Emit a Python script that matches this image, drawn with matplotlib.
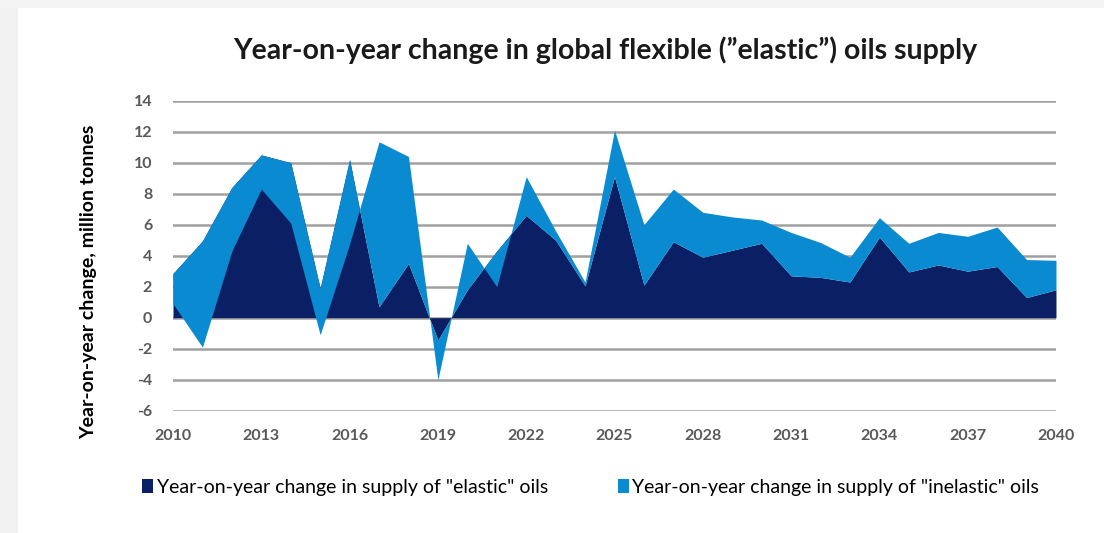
import numpy as np
import matplotlib.pyplot as plt
from matplotlib.patches import Rectangle

# data (million tonnes)
years = list(range(2010, 2041))
elastic = [2.85, 4.95, 8.4, 10.5, 10.0, 1.9, 10.2, 0.7, 3.5, -1.45,
           1.8, 4.3, 6.6, 5.0, 2.05, 9.1, 2.1, 4.9, 3.9, 4.35,
           4.8, 2.7, 2.6, 2.3, 5.2, 2.95, 3.4, 3.0, 3.3, 1.3, 1.8]
inelastic = [-1.95, -6.85, -4.1, -2.2, -3.9, -3.0, -5.45, 10.65, 6.9, -2.55,
             3.0, -2.3, 2.5, 0.6, 0.25, 3.0, 3.9, 3.4, 2.9, 2.15,
             1.5, 2.8, 2.25, 1.6, 1.25, 1.85, 2.1, 2.25, 2.55, 2.45, 1.9]
xtick_years = list(range(2010, 2041, 3))
yticks = list(range(-6, 15, 2))

title = "Year-on-year change in global flexible (\u201delastic\u201d) oils supply"
ylabel = "Year-on-year change, million tonnes"
label_elastic = 'Year-on-year change in supply of "elastic" oils'
label_inelastic = 'Year-on-year change in supply of "inelastic" oils'

dark = "#0b1f64"
light = "#0a8ad0"
tick_col = "#595959"

plt.rcParams["font.family"] = ["Lato", "DejaVu Sans"]

fig = plt.figure(figsize=(11.04, 5.33), dpi=100)

# faint page shadow on the left and top edges
fig.patches.append(Rectangle((0, 0), 0.016, 1, transform=fig.transFigure,
                             color="#f2f2f2", lw=0, zorder=0))
fig.patches.append(Rectangle((0, 0.985), 1, 0.015, transform=fig.transFigure,
                             color="#f4f4f4", lw=0, zorder=0))

ax = fig.add_axes([0.1567, 0.2295, 0.7998, 0.5816])

x = np.array(years)
e = np.array(elastic)
top = e + np.array(inelastic)

h1 = ax.fill_between(x, 0, e, color=dark, lw=0, label=label_elastic, zorder=2)
h2 = ax.fill_between(x, e, top, color=light, lw=0, label=label_inelastic, zorder=3)

ax.set_xlim(2010, 2040)
ax.set_ylim(-6, 14)
ax.set_xticks(xtick_years)
ax.set_yticks(yticks)
ax.set_xticklabels([str(y) for y in xtick_years], fontsize=11.5,
                   fontweight="bold", color=tick_col)
ax.set_yticklabels([str(v) for v in yticks], fontsize=11.5,
                   fontweight="bold", color=tick_col)
ax.tick_params(length=0)
ax.tick_params(axis="x", pad=13)
ax.tick_params(axis="y", pad=15)
for s in ax.spines.values():
    s.set_visible(False)
ax.yaxis.grid(True, color="#a0a0a0", lw=1.8, zorder=1)
ax.set_axisbelow(True)

fig.text(0.080, 0.471, ylabel, rotation=90, ha="center", va="center",
         fontsize=14, fontweight="bold", color="black")

fig.text(0.548, 0.905, title, ha="center", va="center", fontsize=20.5,
         fontweight="bold", color="#1a1a1a")

fig.legend(handles=[h1, h2], loc="center", bbox_to_anchor=(0.535, 0.086),
           ncol=2, frameon=False, fontsize=14, handlelength=0.55,
           handleheight=0.75, handletextpad=0.2, columnspacing=3.6)

fig.savefig("out.png", dpi=100)
